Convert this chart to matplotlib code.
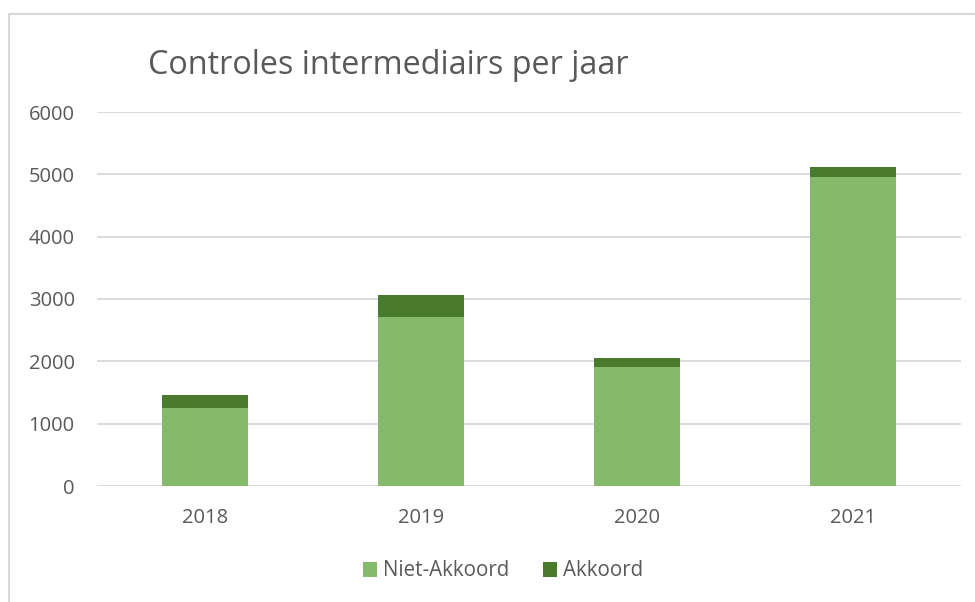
import matplotlib.pyplot as plt
from matplotlib.patches import Rectangle

years = ["2018", "2019", "2020", "2021"]
niet_akkoord = [1255, 2705, 1910, 4955]
akkoord = [205, 360, 140, 158]

light = "#86BA6B"
dark = "#4A7A2B"
grey = "#595959"

plt.rcParams['font.family'] = ['Open Sans', 'DejaVu Sans']

fig = plt.figure(figsize=(9.75, 6.02), dpi=100)
ax = fig.add_axes([97/975, 1 - 486/602, 864/975, 374/602])

# chart frame (light grey border)
fig.patches.append(Rectangle((9/975, -0.01), 1.0, 1 - 13.5/602 + 0.01, transform=fig.transFigure,
                             fill=False, edgecolor="#d9d9d9", linewidth=1.5))

x = range(len(years))
ax.bar(x, niet_akkoord, width=0.4, color=light, label="Niet-Akkoord", zorder=3)
ax.bar(x, akkoord, width=0.4, bottom=niet_akkoord, color=dark, label="Akkoord", zorder=3)

ax.set_xlim(-0.5, 3.5)
ax.set_ylim(0, 6000)
ax.set_yticks(range(0, 6001, 1000))
ax.set_xticks(list(x))
ax.set_xticklabels(years)
ax.yaxis.grid(True, color="#d9d9d9", linewidth=1.3, zorder=0)
for s in ax.spines.values():
    s.set_visible(False)
ax.tick_params(length=0, labelsize=14.5, labelcolor=grey)
ax.tick_params(axis="x", pad=16)
ax.tick_params(axis="y", pad=16)

fig.text(148/975, 1 - 66/602, "Controles intermediairs per jaar", fontsize=23.3,
         color=grey, va="center", ha="left")

fig.legend(loc="center", bbox_to_anchor=(503/975, 1 - 571/602), ncol=2, frameon=False,
           fontsize=14.8, labelcolor=grey, handlelength=0.7, handleheight=0.7,
           handletextpad=0.3, columnspacing=1.6)

fig.savefig("out.png", dpi=100, facecolor="white")
